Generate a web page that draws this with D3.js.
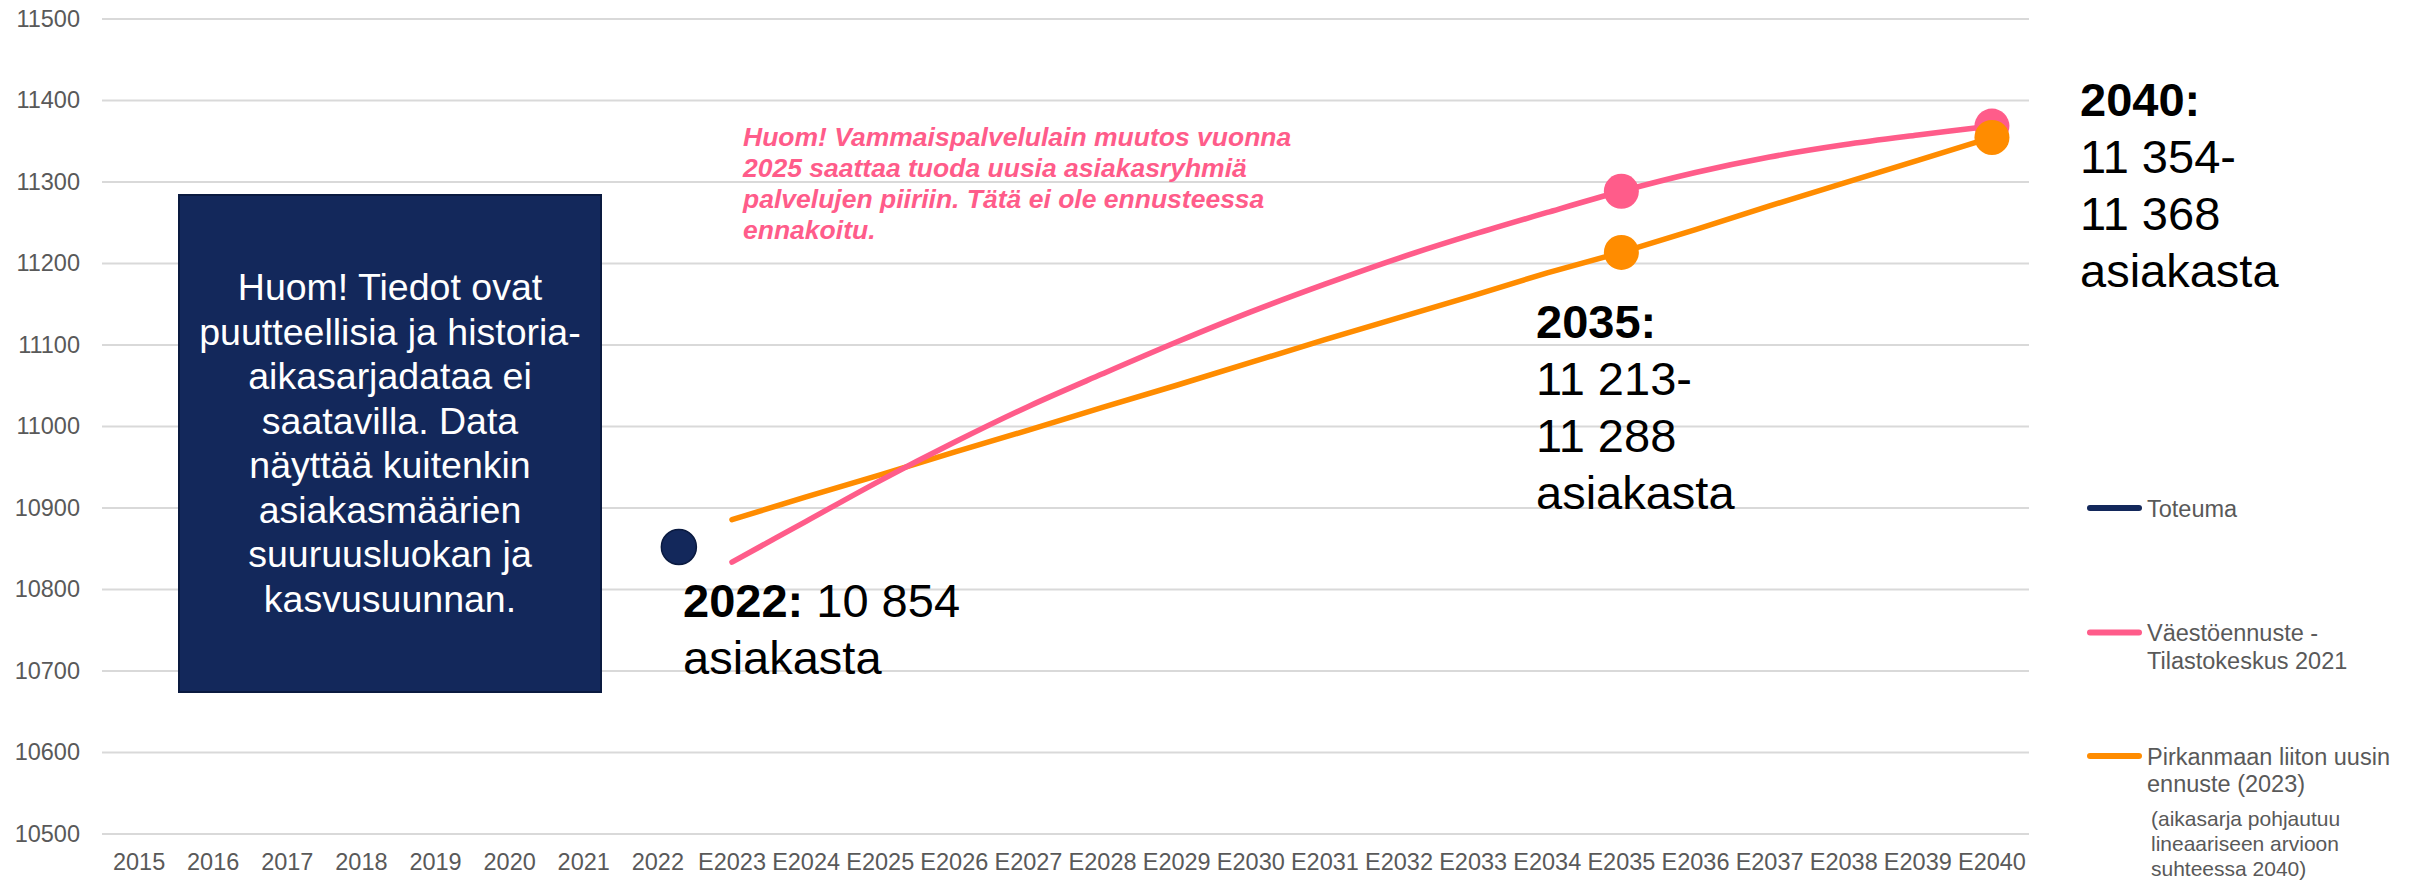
<!DOCTYPE html>
<html>
<head>
<meta charset="utf-8">
<script src="https://cdn.jsdelivr.net/npm/d3@7/dist/d3.min.js"></script>
<style>
  body { margin: 0; background: #fff; }
  svg { display: block; font-family: "Liberation Sans", Arial, sans-serif; }
</style>
</head>
<body>
<div id="chart"></div>
<script>
// Data
const years = ['2015', '2016', '2017', '2018', '2019', '2020', '2021', '2022',
  'E2023', 'E2024', 'E2025', 'E2026', 'E2027', 'E2028', 'E2029', 'E2030', 'E2031',
  'E2032', 'E2033', 'E2034', 'E2035', 'E2036', 'E2037', 'E2038', 'E2039', 'E2040'];
const yTicks = [10500, 10600, 10700, 10800, 10900, 11000, 11100, 11200, 11300, 11400, 11500];

const toteumaYears = ['2022'];
const toteumaValues = [10854];

const forecastYears = ['E2023', 'E2024', 'E2025', 'E2026', 'E2027', 'E2028', 'E2029', 'E2030', 'E2031',
  'E2032', 'E2033', 'E2034', 'E2035', 'E2036', 'E2037', 'E2038', 'E2039', 'E2040'];
const vaestoValues = [10833, 10883, 10933, 10980, 11024, 11064, 11103, 11140, 11174,
  11206, 11235, 11262, 11288, 11311, 11330, 11345, 11357, 11368];
const pirkanmaaValues = [10885, 10913, 10940, 10968, 10995, 11023, 11050, 11078, 11106,
  11133, 11160, 11188, 11213, 11241, 11270, 11298, 11326, 11354];
const highlightYears = ['E2035', 'E2040'];

// Layout
const WIDTH = 2412;
const HEIGHT = 880;
const MARGIN = { left: 102, right: 383, top: 18.5, bottom: 46.5 };
const PLOT_W = WIDTH - MARGIN.left - MARGIN.right;
const PLOT_H = HEIGHT - MARGIN.top - MARGIN.bottom;

const NAVY = '#13285b';
const PINK = '#ff5c8a';
const ORANGE = '#ff8c00';
const AXIS_TEXT = '#595959';
const GRID = '#d9d9d9';

const svg = d3.select('#chart')
  .append('svg')
  .attr('width', WIDTH)
  .attr('height', HEIGHT);

const g = svg.append('g')
  .attr('transform', `translate(${MARGIN.left}, ${MARGIN.top})`);

const x = d3.scaleBand()
  .domain(years)
  .range([0, PLOT_W]);
const xc = d => x(d) + x.bandwidth() / 2;

const y = d3.scaleLinear()
  .domain([10500, 11500])
  .range([PLOT_H, 0]);

// y axis + gridlines
g.append('g')
  .attr('class', 'y-axis')
  .call(d3.axisLeft(y).tickValues(yTicks).tickSize(-PLOT_W).tickPadding(22).tickFormat(d3.format('d')))
  .call(a => a.select('.domain').remove())
  .call(a => a.selectAll('line').attr('stroke', GRID).attr('stroke-width', 2))
  .call(a => a.selectAll('text')
    .attr('fill', AXIS_TEXT)
    .style('font-size', '23.5px')
    .style('font-family', '"Liberation Sans", Arial, sans-serif'));

// x axis
g.append('g')
  .attr('class', 'x-axis')
  .attr('transform', `translate(0, ${PLOT_H})`)
  .call(d3.axisBottom(x).tickSize(0).tickPadding(20))
  .call(a => a.select('.domain').remove())
  .call(a => a.selectAll('text')
    .attr('fill', AXIS_TEXT)
    .style('font-size', '23.5px')
    .style('font-family', '"Liberation Sans", Arial, sans-serif'));

// navy note box
const boxG = svg.append('g');
boxG.append('rect')
  .attr('x', 179).attr('y', 195)
  .attr('width', 422).attr('height', 497)
  .attr('fill', NAVY)
  .attr('stroke', '#0a1a40')
  .attr('stroke-width', 2);
const boxLines = ['Huom! Tiedot ovat', 'puutteellisia ja historia-', 'aikasarjadataa ei',
  'saatavilla. Data', 'näyttää kuitenkin', 'asiakasmäärien', 'suuruusluokan ja', 'kasvusuunnan.'];
boxG.selectAll('text')
  .data(boxLines)
  .enter()
  .append('text')
  .attr('x', 390)
  .attr('y', (d, i) => 300 + i * 44.5)
  .attr('text-anchor', 'middle')
  .attr('fill', '#fff')
  .style('font-size', '37.5px')
  .text(d => d);

// pink note
const noteLines = ['Huom! Vammaispalvelulain muutos vuonna', '2025 saattaa tuoda uusia asiakasryhmiä',
  'palvelujen piiriin. Tätä ei ole ennusteessa', 'ennakoitu.'];
svg.append('g').selectAll('text')
  .data(noteLines)
  .enter()
  .append('text')
  .attr('x', 743)
  .attr('y', (d, i) => 146 + i * 31)
  .attr('fill', PINK)
  .style('font-size', '26.5px')
  .style('font-weight', 'bold')
  .style('font-style', 'italic')
  .text(d => d);

// lines
const vaesto = forecastYears.map((d, i) => ({ year: d, value: vaestoValues[i] }));
const pirkanmaa = forecastYears.map((d, i) => ({ year: d, value: pirkanmaaValues[i] }));

g.append('path')
  .datum(pirkanmaa)
  .attr('d', d3.line().x(d => xc(d.year)).y(d => y(d.value)))
  .attr('fill', 'none')
  .attr('stroke', ORANGE)
  .attr('stroke-width', 5.5)
  .attr('stroke-linecap', 'round');

g.append('path')
  .datum(vaesto)
  .attr('d', d3.line().x(d => xc(d.year)).y(d => y(d.value)).curve(d3.curveCatmullRom.alpha(0.5)))
  .attr('fill', 'none')
  .attr('stroke', PINK)
  .attr('stroke-width', 5.5)
  .attr('stroke-linecap', 'round');

// highlight dots
g.selectAll('circle.vaesto')
  .data(vaesto.filter(d => highlightYears.includes(d.year)))
  .enter()
  .append('circle')
  .attr('class', 'vaesto')
  .attr('cx', d => xc(d.year))
  .attr('cy', d => y(d.value))
  .attr('r', 17.5)
  .attr('fill', PINK);

g.selectAll('circle.pirkanmaa')
  .data(pirkanmaa.filter(d => highlightYears.includes(d.year)))
  .enter()
  .append('circle')
  .attr('class', 'pirkanmaa')
  .attr('cx', d => xc(d.year))
  .attr('cy', d => y(d.value))
  .attr('r', 17.5)
  .attr('fill', ORANGE);

// toteuma point (sits a bit right of its category in the original)
g.selectAll('circle.toteuma')
  .data(toteumaYears.map((d, i) => ({ year: d, value: toteumaValues[i] })))
  .enter()
  .append('circle')
  .attr('class', 'toteuma')
  .attr('cx', d => xc(d.year) + 21)
  .attr('cy', d => y(d.value) + 2)
  .attr('r', 17.5)
  .attr('fill', NAVY)
  .attr('stroke', '#0a1a40')
  .attr('stroke-width', 1.5);

// big value labels
function valueLabel (x0, y0, lines) {
  const t = svg.append('text')
    .attr('fill', '#000')
    .style('font-size', '47px');
  lines.forEach((line, i) => {
    line.forEach((part, j) => {
      const ts = t.append('tspan').text(part.text);
      if (j === 0) ts.attr('x', x0).attr('y', y0 + i * 57);
      if (part.bold) ts.style('font-weight', 'bold');
    });
  });
}

valueLabel(683, 617, [
  [{ text: '2022:', bold: true }, { text: ' 10 854' }],
  [{ text: 'asiakasta' }]
]);
valueLabel(1536, 338, [
  [{ text: '2035:', bold: true }],
  [{ text: '11 213-' }],
  [{ text: '11 288' }],
  [{ text: 'asiakasta' }]
]);
valueLabel(2080, 116, [
  [{ text: '2040:', bold: true }],
  [{ text: '11 354-' }],
  [{ text: '11 368' }],
  [{ text: 'asiakasta' }]
]);

// legend
const legendItems = [
  { color: NAVY, y: 508, lines: ['Toteuma'] },
  { color: PINK, y: 632.5, lines: ['Väestöennuste -', 'Tilastokeskus 2021'] },
  { color: ORANGE, y: 756, lines: ['Pirkanmaan liiton uusin', 'ennuste (2023)'] }
];
const legend = svg.append('g').attr('class', 'legend');
legendItems.forEach(item => {
  legend.append('line')
    .attr('x1', 2090).attr('x2', 2139)
    .attr('y1', item.y).attr('y2', item.y)
    .attr('stroke', item.color)
    .attr('stroke-width', 6)
    .attr('stroke-linecap', 'round');
  legend.append('text')
    .attr('fill', AXIS_TEXT)
    .style('font-size', '23.5px')
    .selectAll('tspan')
    .data(item.lines)
    .enter()
    .append('tspan')
    .attr('x', 2147)
    .attr('y', (d, i) => item.y + 8.5 + i * 27.5)
    .text(d => d);
});
legend.append('text')
  .attr('fill', AXIS_TEXT)
  .style('font-size', '21px')
  .selectAll('tspan')
  .data(['(aikasarja pohjautuu', 'lineaariseen arvioon', 'suhteessa 2040)'])
  .enter()
  .append('tspan')
  .attr('x', 2151)
  .attr('y', (d, i) => 826 + i * 25)
  .text(d => d);
</script>
</body>
</html>
